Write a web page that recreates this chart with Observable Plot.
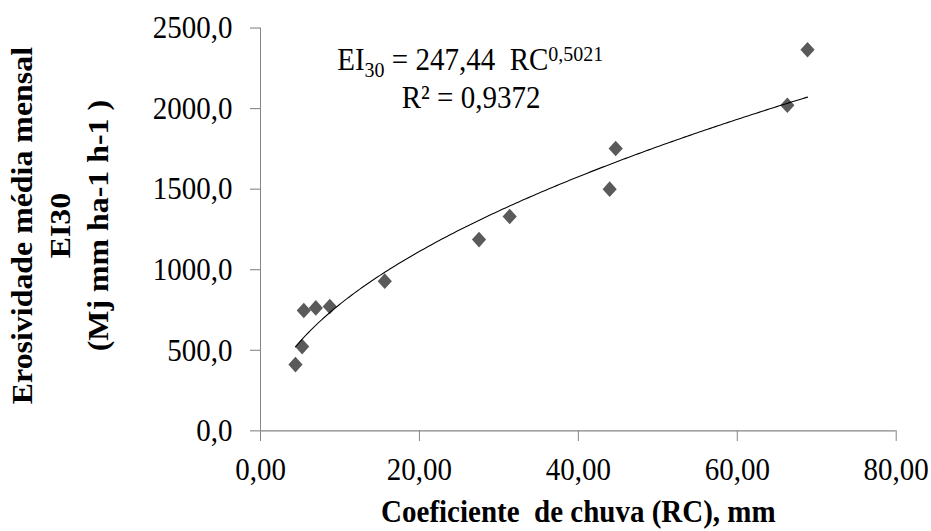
<!DOCTYPE html>
<html><head><meta charset="utf-8">
<script src="https://cdn.jsdelivr.net/npm/d3@7"></script>
<script src="https://cdn.jsdelivr.net/npm/@observablehq/plot@0.6"></script>
<style>body{margin:0;background:#fff} svg text{font-family:"Liberation Serif","Times New Roman",serif;}</style>
</head><body><div id="chart"></div>
<script>
// Data
const rc = [4.40, 5.24, 5.45, 6.96, 8.72, 15.64, 27.5, 31.36, 43.94, 44.7, 66.3, 68.84];
const ei = [411, 523, 747, 763, 772, 929, 1187, 1330, 1500, 1752, 2021, 2365];
// Power trendline as given in the chart's equation
const trendCoef = 247.44;
const trendExp = 0.5021;
const xTicks = [0, 20, 40, 60, 80];
const yTicks = [0, 500, 1000, 1500, 2000, 2500];
const eqLabel = "EI30 = 247,44 RC0,5021";
const r2Label = "R² = 0,9372";
const xTitle = "Coeficiente \u00a0de chuva (RC), mm";
const yTitle = ["Erosividade média mensal", "EI30", "(Mj mm ha-1 h-1 )"];

const points = rc.map((x, i) => ({x, y: ei[i]}));
const xmin = d3.min(rc), xmax = d3.max(rc);
const trend = d3.range(0, 201).map(i => {
  const x = xmin + (xmax - xmin) * i / 200;
  return {x, y: trendCoef * Math.pow(x, trendExp)};
});

const W = 931, H = 483, SCREEN_H = 531;
const FONT = "Liberation Serif";
const comma = f => v => d3.format(f)(v).replace(".", ",");
const gray = "#868686";

const svg = Plot.plot({
  width: W, height: H,
  marginTop: 25, marginBottom: 91.6, marginLeft: 260, marginRight: 35.3,
  style: {fontFamily: FONT, fontSize: "29px", background: "#fff", color: "black"},
  x: {domain: [0, 80]},
  y: {domain: [0, 2500]},
  marks: [
    Plot.ruleX([0], {stroke: gray}),
    Plot.ruleY([0], {stroke: gray}),
    Plot.axisY({ticks: yTicks, tickSize: 10, tickPadding: 18, tickFormat: comma(".1f"), stroke: gray, fill: "black", fontSize: 29, fontFamily: FONT, fontVariant: "normal", label: null}),
    Plot.axisX({ticks: xTicks, tickSize: 9.7, tickPadding: 14, tickFormat: comma(".2f"), stroke: gray, fill: "black", fontSize: 29, fontFamily: FONT, fontVariant: "normal", label: null}),
    Plot.dot(points, {x: "x", y: "y", symbol: "diamond2", r: 6.4, fill: "#5a5a5a", stroke: "none"}),
    Plot.line(trend, {x: "x", y: "y", stroke: "black", strokeWidth: 1}),
    Plot.text([eqLabel], {x: 26.4, y: 2300, text: d => d, fontSize: 29, fontFamily: FONT, fill: "black"}),
    Plot.text([r2Label], {x: 26.5, y: 2070, text: d => d, fontSize: 29, fontFamily: FONT, fill: "black"}),
    Plot.text([xTitle], {frameAnchor: "bottom", textAnchor: "middle", dy: 83, text: d => d, fontSize: 29, fontFamily: FONT, fontWeight: "bold", fill: "black"}),
    Plot.text([yTitle.join("\n")], {frameAnchor: "left", textAnchor: "middle", dx: -203, dy: -3.5, rotate: -90, lineHeight: 1.31, text: d => d, fontSize: 29, fontFamily: FONT, fontWeight: "bold", fill: "black"})
  ]
});

// rebuild the equation with subscript / superscript
const eq = [...svg.querySelectorAll("text")].find(e => e.textContent === eqLabel);
if (eq) {
  const s = d3.select(eq);
  s.text(null).style("white-space", "pre");
  s.append("tspan").text("EI");
  s.append("tspan").attr("font-size", 20).attr("dy", 6).text("30");
  s.append("tspan").attr("dy", -6).text(" = 247,44\u00a0\u00a0RC");
  s.append("tspan").attr("font-size", 20).attr("dy", -9).text("0,5021");
}

// the reference is stretched vertically
svg.setAttribute("viewBox", `0 0 ${W} ${H}`);
svg.setAttribute("preserveAspectRatio", "none");
svg.setAttribute("height", SCREEN_H);
svg.style.height = SCREEN_H + "px";
svg.style.width = W + "px";
svg.style.maxWidth = "none";
document.getElementById("chart").appendChild(svg);
</script>
</body></html>
